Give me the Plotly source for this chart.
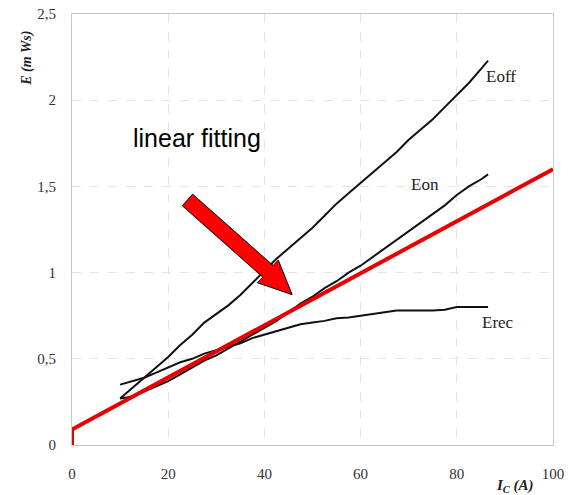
import plotly.graph_objects as go

# collector current (A) sampled along the measured curves
ic = [10, 12.5, 15, 17.5, 20, 22.5, 25, 27.5, 30, 32.5, 35, 37.5, 40, 42.5, 45, 47.5,
      50, 52.5, 55, 57.5, 60, 62.5, 65, 67.5, 70, 72.5, 75, 77.5, 80, 82.5, 85, 86.5]

# switching energies (mWs)
e_off = [0.27, 0.33, 0.39, 0.45, 0.51, 0.58, 0.64, 0.71, 0.76, 0.81, 0.87, 0.94, 1.01, 1.08, 1.14, 1.20,
         1.26, 1.33, 1.40, 1.46, 1.52, 1.58, 1.64, 1.70, 1.77, 1.83, 1.89, 1.96, 2.03, 2.10, 2.18, 2.23]
e_on = [0.27, 0.28, 0.31, 0.34, 0.37, 0.41, 0.45, 0.49, 0.52, 0.56, 0.60, 0.64, 0.68, 0.72, 0.77, 0.82,
        0.86, 0.91, 0.95, 1.00, 1.04, 1.09, 1.14, 1.19, 1.24, 1.29, 1.34, 1.39, 1.45, 1.50, 1.54, 1.57]
e_rec = [0.35, 0.37, 0.39, 0.42, 0.45, 0.48, 0.50, 0.53, 0.55, 0.57, 0.59, 0.62, 0.64, 0.66, 0.68, 0.70,
         0.71, 0.72, 0.735, 0.74, 0.75, 0.76, 0.77, 0.78, 0.78, 0.78, 0.78, 0.785, 0.80, 0.80, 0.80, 0.80]

# linear fit line (red)
fit_x = [0, 0, 100]
fit_y = [0, 0.09, 1.6]

x_ticks = [0, 20, 40, 60, 80, 100]
y_ticks = [0, 0.5, 1, 1.5, 2, 2.5]
y_tick_text = ["0", "0,5", "1", "1,5", "2", "2,5"]

# outline of the big red arrow (data coords)
arrow_x = [25.08, 41.81, 42.88, 45.77, 38.58, 39.65, 22.92]
arrow_y = [1.455, 1.041, 1.073, 0.872, 0.941, 0.974, 1.388]

serif = "Liberation Serif, Times New Roman, serif"

fig = go.Figure()

for ys in [e_off, e_on, e_rec]:
    fig.add_trace(go.Scatter(x=ic, y=ys, mode='lines', line=dict(color='#111111', width=2),
                             showlegend=False, hoverinfo='skip'))

fig.add_trace(go.Scatter(x=fit_x, y=fit_y, mode='lines', line=dict(color='#e80000', width=4),
                         showlegend=False, cliponaxis=False))

# arrow as a closed path
path = "M " + " L ".join(f"{x},{y}" for x, y in zip(arrow_x, arrow_y)) + " Z"
fig.add_shape(type='path', path=path, xref='x', yref='y',
              fillcolor='#ff0000', line=dict(color='black', width=1))

# curve labels
labels = [("Eoff", 89.2, 2.14), ("Eon", 73.3, 1.51), ("Erec", 88.6, 0.71)]
for txt, x, y in labels:
    fig.add_annotation(x=x, y=y, text=txt, showarrow=False, xanchor='center', yanchor='middle',
                       font=dict(family=serif, size=17, color='#222222'))

fig.add_annotation(x=25.9, y=1.78, text="linear fitting", showarrow=False,
                   xanchor='center', yanchor='middle',
                   font=dict(family="Liberation Sans, Arial, sans-serif", size=25, color='black'))

# axis titles placed by hand like the original
fig.add_annotation(xref='paper', yref='paper', x=-0.094, y=0.898, text="<b><i>E (m Ws)</i></b>",
                   showarrow=False, textangle=-90, xanchor='center', yanchor='middle',
                   font=dict(family=serif, size=14, color='#222222'))
fig.add_annotation(xref='paper', yref='paper', x=0.921, y=-0.094, text="<b><i>I<sub>C</sub> (A)</i></b>",
                   showarrow=False, xanchor='center', yanchor='middle',
                   font=dict(family=serif, size=15, color='#222222'))

fig.update_layout(
    width=574, height=495,
    margin=dict(l=72, r=21, t=14, b=50),
    paper_bgcolor='white', plot_bgcolor='white',
    font=dict(family=serif, size=15, color='#333333'),
    xaxis=dict(range=[0, 100], tickvals=x_ticks, showgrid=True, gridcolor='#e4e4e4',
               griddash='dash', zeroline=False, showline=True, linecolor='#c8c8c8', mirror=True,
               ticks='', ticklabelstandoff=15, automargin=False),
    yaxis=dict(range=[0, 2.5], tickvals=y_ticks, ticktext=y_tick_text, showgrid=True,
               gridcolor='#e4e4e4', griddash='dash', zeroline=False, showline=True,
               linecolor='#c8c8c8', mirror=True, ticks='', ticklabelstandoff=12, automargin=False),
)

# drop the default page margin so the figure sits at the window corner
fig.write_html("out.html", config={'displayModeBar': False},
               post_script="document.body.style.margin='0';")
